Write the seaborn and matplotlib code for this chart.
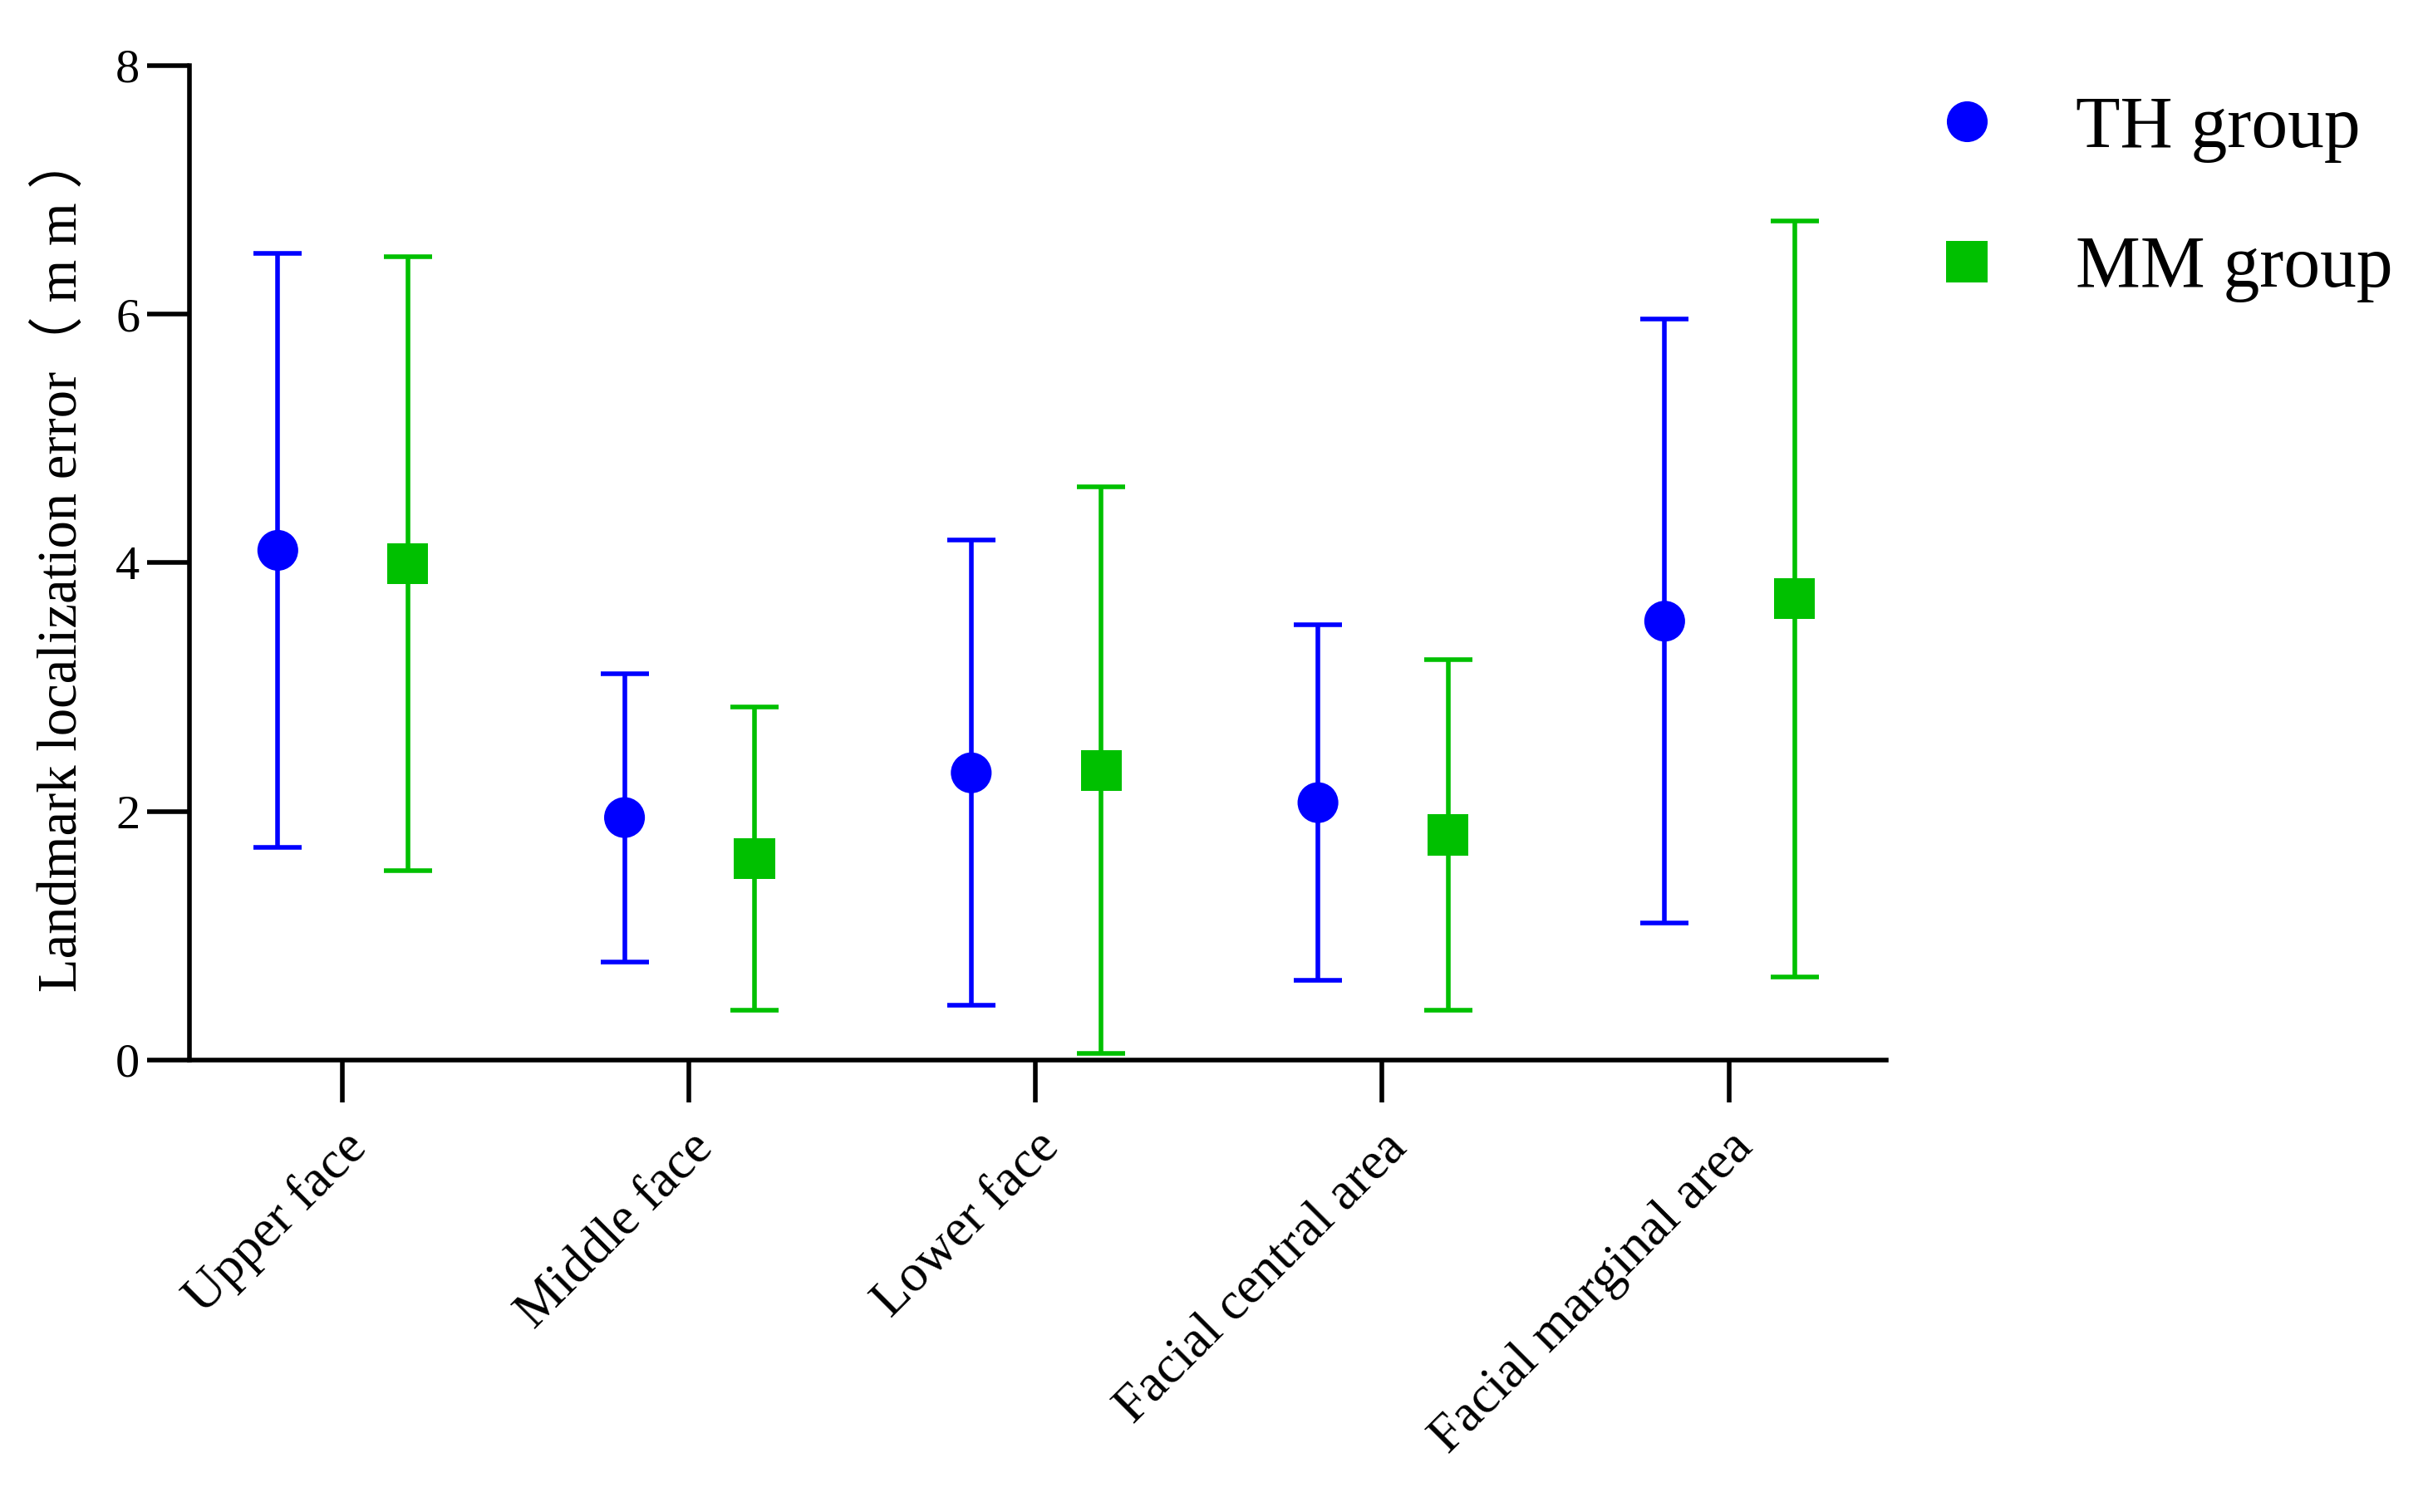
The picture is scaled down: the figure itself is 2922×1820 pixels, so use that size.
import numpy as np
import pandas as pd
import seaborn as sns
import matplotlib.pyplot as plt

# Facial regions on the x axis
regions = ["Upper face", "Middle face", "Lower face",
           "Facial central area", "Facial marginal area"]
groups = ["TH group", "MM group"]

# Mean landmark error (mm) and SD
th_mean = [4.10, 1.95, 2.31, 2.07, 3.53]
th_sd = [2.39, 1.16, 1.87, 1.43, 2.43]
mm_mean = [3.99, 1.62, 2.33, 1.81, 3.71]
mm_sd = [2.47, 1.22, 2.28, 1.41, 3.04]

y_ticks = [0, 2, 4, 6, 8]


def main():
    colors = {"TH group": "#0000FF", "MM group": "#00C000"}
    markers = {"TH group": "o", "MM group": "s"}
    offsets = {"TH group": -0.185, "MM group": 0.19}

    idx = np.arange(len(regions))
    df = pd.concat([
        pd.DataFrame({"region": regions, "group": "TH group",
                      "mean": th_mean, "sd": th_sd}),
        pd.DataFrame({"region": regions, "group": "MM group",
                      "mean": mm_mean, "sd": mm_sd}),
    ], ignore_index=True)
    df["pos"] = df["region"].map(dict(zip(regions, idx))) + df["group"].map(offsets)

    sns.set_style("ticks")
    plt.rcParams["font.family"] = ["Liberation Serif", "Noto Sans CJK SC"]
    plt.rcParams["text.color"] = "black"
    plt.rcParams["axes.labelcolor"] = "black"
    plt.rcParams["xtick.color"] = "black"
    plt.rcParams["ytick.color"] = "black"

    fig = plt.figure(figsize=(29.22, 18.2), dpi=100)
    ax = fig.add_axes([0.078, 0.299, 0.699, 0.6576])

    # error bars first, markers on top
    for g in groups:
        sub = df[df["group"] == g]
        ax.errorbar(sub["pos"], sub["mean"], yerr=sub["sd"], fmt="none",
                    ecolor=colors[g], elinewidth=4, capsize=21, capthick=4,
                    zorder=2)

    sns.scatterplot(data=df, x="pos", y="mean", hue="group", style="group",
                    palette=colors, markers=markers, s=1250, linewidth=0,
                    hue_order=groups, style_order=groups, ax=ax, zorder=3)

    ax.set_xlim(-0.44, 4.455)
    ax.set_ylim(0, 8)
    ax.set_yticks(y_ticks)
    ax.set_xticks(idx)
    ax.set_xticklabels(regions, rotation=45, ha="right", rotation_mode="anchor",
                       fontsize=46)
    ax.tick_params(axis="both", width=4, length=37, color="black")
    ax.tick_params(axis="y", labelsize=42, pad=6)
    ax.tick_params(axis="x", pad=18)
    ax.set_xlabel("")
    ax.set_ylabel("Landmark localization error（ m m ）", fontsize=48, labelpad=24)

    for side in ["top", "right"]:
        ax.spines[side].set_visible(False)
    for side in ["left", "bottom"]:
        ax.spines[side].set_linewidth(4)
        ax.spines[side].set_color("black")

    ax.legend(loc="upper left", bbox_to_anchor=(0.795, 0.937),
              bbox_transform=fig.transFigure, frameon=False, fontsize=63,
              handlelength=1.0, handletextpad=1.0, labelspacing=1.0,
              borderpad=0, borderaxespad=0, markerscale=1.0)

    fig.savefig("out.png", dpi=fig.dpi)
    plt.close(fig)


if __name__ == "__main__":
    main()
